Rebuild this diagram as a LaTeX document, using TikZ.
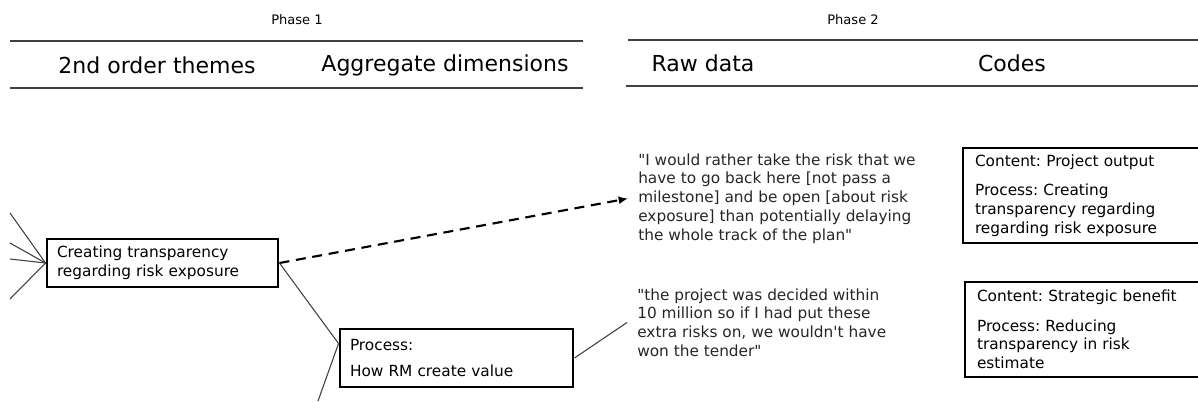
\documentclass[tikz,border=0pt]{standalone}
\usepackage{fontspec}
\setmainfont{DejaVu Sans}
\usetikzlibrary{arrows.meta, positioning}
\frenchspacing

\begin{document}
\begin{tikzpicture}[x=0.75pt, y=-0.75pt,
  hd/.style={font=\fontsize{16.5}{20}\selectfont},
  ph/.style={font=\fontsize{9.8}{11}\selectfont},
  box/.style={draw, line width=2.2pt, align=left, inner xsep=7.5pt,
    font=\fontsize{11.5}{14.1}\selectfont},
  rawd/.style={anchor=west, align=left, inner xsep=7.5pt, inner ysep=0pt,
    font=\fontsize{11.5}{14.1}\selectfont, text=black!85},
  ln/.style={draw=black!75, line width=0.8pt},
  rule/.style={draw=black!75, line width=1.1pt},
  e/.style={-{Latex[length=7pt, width=6pt]}, line width=1.6pt, dash pattern=on 7.5pt off 5pt}]
  \useasboundingbox (0,0) rectangle (1198,401);
  % header
  \node[ph] (p1) at (297,20) {Phase 1};
  \node[ph] (p2) at (853,20) {Phase 2};
  \node[hd] (h1) at (157,65) {2nd order themes};
  \node[hd] (h2) at (445,65) {Aggregate dimensions};
  \node[hd] (h3) at (703,63) {Raw data};
  \node[hd] (h4) at (1012,63) {Codes};
  \draw[rule] (10,41) -- (583,41);
  \draw[rule] (10,88) -- (583,88);
  \draw[rule] (628,40) -- (1198,40);
  \draw[rule] (626,86) -- (1198,86);
  % themes
  \node[box, text width=158.25pt, minimum height=36pt] (crt) at (162.5,263)
    {Creating transparency\\regarding risk exposure};
  \node[box, text width=159.75pt, minimum height=43.5pt] (prc) at (456.5,358)
    {Process:\\[6pt]How RM create value};
  % raw data
  \node[rawd] (q1) at (628,198.5) {\textquotedbl I would rather take the risk that we\\have to go back here [not pass a\\milestone] and be open [about risk\\exposure] than potentially delaying\\the whole track of the plan\textquotedbl};
  \node[rawd] (q2) at (627,322.5) {\textquotedbl the project was decided within\\10 million so if I had put these\\extra risks on, we wouldn\textquotesingle t have\\won the tender\textquotedbl};
  % codes
  \node[box, text width=192pt, inner xsep=9pt, minimum height=71.25pt] (c1) at (1103,195.5)
    {Content: Project output\\[8pt]Process: Creating\\transparency regarding\\regarding risk exposure};
  \node[box, text width=192pt, inner xsep=9pt, minimum height=71.25pt] (c2) at (1105,329.5)
    {Content: Strategic benefit\\[8pt]Process: Reducing\\transparency in risk\\estimate};
  % links
  \foreach \y [count=\i] in {213,243,259,299} {
    \coordinate (l\i) at (10,\y);
    \draw[ln] (l\i) -- (crt.west);
  }
  \coordinate (lb) at (318,401);
  \draw[e] (crt.east) -- (q1.west);
  \draw[ln] (crt.east) -- (prc.173);
  \draw[ln] (lb) -- (prc.173);
  \draw[ln] (prc.east) -- (q2.west);
\end{tikzpicture}
\end{document}
